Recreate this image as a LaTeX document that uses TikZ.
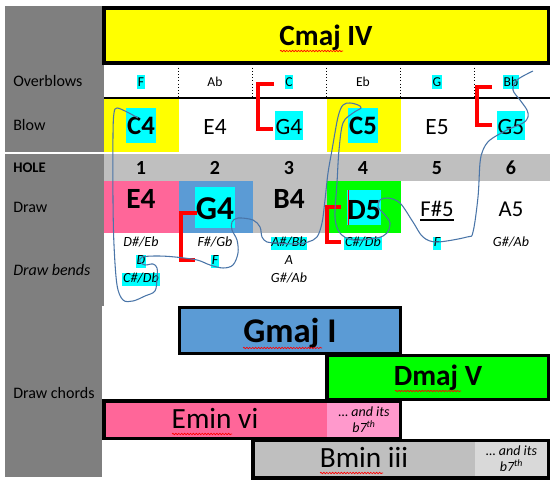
\documentclass[tikz,border=0pt]{standalone}
\usepackage{fontspec}
\setmainfont{Carlito}
\usetikzlibrary{decorations.pathmorphing}
\newcommand{\FontSz}[1]{\fontsize{#1}{#1}\selectfont}
\definecolor{chordpink}{HTML}{FF6699}
\definecolor{lightpink}{HTML}{FF99CC}
\definecolor{chordblue}{HTML}{5B9BD5}
\definecolor{chordgreen}{HTML}{00FF00}
\definecolor{chordyellow}{HTML}{FFFF00}
\definecolor{hlcyan}{HTML}{00FFFF}
\definecolor{lightgrey}{HTML}{BFBFBF}
\definecolor{palegrey}{HTML}{D9D9D9}
\definecolor{darkgrey}{HTML}{7F7F7F}
\definecolor{markred}{HTML}{FF0000}
\definecolor{scribble}{HTML}{4A75A8}

\begin{document}
\begin{tikzpicture}[x=0.75pt,y=-0.75pt,
    every node/.style={inner sep=0pt},
    hl/.style 2 args={fill=hlcyan,inner xsep=0.6pt,text height=#1,text depth=#2},
    rowlabel/.style={anchor=base west,font=\FontSz{12}},
    ob/.style={anchor=base,font=\FontSz{10.2}},
    obhl/.style={ob,hl={8.8pt}{2pt}},
    blow/.style={anchor=base,font=\FontSz{17.5}},
    blowhl/.style={blow,hl={18pt}{3.8pt}},
    blowbold/.style={anchor=base,font=\FontSz{20}\bfseries,hl={20pt}{6pt}},
    drawbold/.style={anchor=base,font=\FontSz{22}\bfseries},
    drawnote/.style={anchor=base,font=\FontSz{17}},
    bendnote/.style={anchor=base,font=\FontSz{10.5}\itshape},
    bendhl/.style={bendnote,hl={7.8pt}{2.6pt}},
    chordbox/.style={draw=black,line width=2.6pt},
    bracket/.style={markred,line width=3pt},
    squiggle/.style={markred,line width=0.5pt,decorate,decoration={snake,amplitude=0.55pt,segment length=2.2pt}}]

\useasboundingbox (0,0) rectangle (554,484);

% left column
\fill[darkgrey] (5,6) rectangle (104,152.3);
\fill[darkgrey] (5,153.7) rectangle (104,306);
\fill[darkgrey] (5,306) rectangle (102,477);
\node[rowlabel] (lob) at (13,87) {Overblows};
\node[rowlabel] (lbl) at (13,131) {Blow};
\node[rowlabel,font=\FontSz{11}\bfseries] (lho) at (13,173) {HOLE};
\node[rowlabel] (ldr) at (13,213) {Draw};
\node[rowlabel,font=\FontSz{12}\itshape] (lbe) at (13,276) {Draw bends};
\node[rowlabel] (lch) at (13,399) {Draw chords};

% cells
\fill[chordyellow] (104,99) rectangle (179,152.3);
\fill[chordyellow] (327,99) rectangle (401,152.3);
\fill[lightgrey] (104,153.7) rectangle (549.5,181);
\fill[chordpink] (104,181) rectangle (179,233.3);
\fill[chordblue] (179,181) rectangle (253.3,233.3);
\fill[lightgrey] (253.3,181) rectangle (327,233.3);
\fill[chordgreen] (327,181) rectangle (401,233.3);

% Cmaj
\draw[chordbox,fill=chordyellow] (103.8,8) rectangle (548.3,62.8);
\node[anchor=base,font=\FontSz{22}\bfseries] (cmaj) at (326,46) {Cmaj IV};

% overblows
\foreach \x in {178.3,252.3,326,400,474}
  \draw[dotted] (\x,64.5) -- (\x,96.8);
\draw[line width=2pt] (104,98) -- (549.5,98);
\foreach \n/\s [count=\i] in {F/obhl,Ab/ob,C/obhl,Eb/ob,G/obhl,Bb/obhl}
  \node[\s] (ob\i) at ({141+74*(\i-1)},86.5) {\n};

% blow
\foreach \n/\s [count=\i] in {C4/blowbold,E4/blow,G4/blowhl,C5/blowbold,E5/blow,G5/blowhl}
  \node[\s] (bl\i) at ({141+74*(\i-1)},135) {\n};

% holes
\foreach \i in {1,...,6}
  \node[anchor=base,font=\FontSz{15}\bfseries] (h\i) at ({141+74*(\i-1)},175) {\i};

% draw
\node[drawbold] (dr1) at (141,208.5) {E4};
\node[drawbold,font=\FontSz{25}\bfseries,hl={25pt}{6pt}] (dr2) at (215,220) {G4};
\node[drawbold] (dr3) at (289,209) {B4};
\node[drawbold,hl={22.5pt}{3.8pt}] (dr4) at (364,220) {D5};
\node[drawnote] (dr5) at (437,216.5) {F\#5};
\node[drawnote] (dr6) at (511,216.5) {A5};
\draw[line width=1.4pt] ([yshift=-2.6pt]dr5.base west) -- ([yshift=-2.6pt]dr5.base east);
\draw[markred,line width=0.6pt] (348,190) -- (348,225);

% bends
\node[bendnote] (b1a) at (141,247) {D\#/Eb};
\node[bendhl] (b1b) at (141,265) {D};
\node[bendhl] (b1c) at (141,283) {C\#/Db};
\node[bendnote] (b2a) at (215,247) {F\#/Gb};
\node[bendhl] (b2b) at (215,265) {F};
\node[bendhl] (b3a) at (289,247) {A\#/Bb};
\node[bendnote] (b3b) at (289,265) {A};
\node[bendnote] (b3c) at (289,283) {G\#/Ab};
\node[bendhl] (b4a) at (363,247) {C\#/Db};
\node[bendhl] (b5a) at (437,247) {F};
\node[bendnote] (b6a) at (511,247) {G\#/Ab};

% brackets
\draw[bracket] (274,84) -- (258,84) -- (258,129) -- (273,129);
\draw[bracket] (492,87) -- (477,87) -- (477,125) -- (492,125);
\draw[bracket] (197,213) -- (181,213) -- (181,260) -- (195,260);
\draw[bracket] (341,207) -- (327,207) -- (327,242) -- (341,242);

% draw chords
\draw[chordbox,fill=chordblue] (179.5,307.7) rectangle (400.3,353.7);
\node[anchor=base,font=\FontSz{26}\bfseries] (gmaj) at (290,343) {Gmaj I};
\draw[chordbox,fill=chordgreen] (327,355.3) rectangle (548.7,399.3);
\node[anchor=base,font=\FontSz{22}\bfseries] (dmaj) at (438,386) {Dmaj V};
\fill[chordpink] (103.8,401) rectangle (327,438.7);
\fill[lightpink] (327,401) rectangle (400.3,438.7);
\draw[chordbox] (103.8,401) rectangle (400.3,438.7);
\node[anchor=base,font=\FontSz{22}] (emin) at (215,429) {Emin vi};
\node[bendnote] (eminb) at (364,417) {… and its};
\node[bendnote] (eminc) at (364,433) {b7\textsuperscript{th}};
\fill[lightgrey] (252.8,440.3) rectangle (475,478);
\fill[palegrey] (475,440.3) rectangle (548.7,478);
\draw[chordbox] (252.8,440.3) rectangle (548.7,478);
\node[anchor=base,font=\FontSz{22}] (bmin) at (364,468) {Bmin iii};
\node[bendnote] (bminb) at (511.5,456) {… and its};
\node[bendnote] (bminc) at (511.5,472) {b7\textsuperscript{th}};

% spell check marks
\draw[squiggle] (280,51) -- (343,51);
\draw[squiggle] (243,348) -- (322,348);
\draw[squiggle] (395,391) -- (461,391);
\draw[squiggle] (172,434) -- (232,434);
\draw[squiggle] (320,473) -- (383,473);

% scribble
\draw[scribble,line width=0.8pt] plot[smooth,tension=0.55] coordinates {
  (138,118) (127,112) (117,108) (114,113) (113,135) (113,200) (114,245)
  (117,285) (123,300) (133,301) (145,296) (155,291) (157,278) (157,268)
  (153,264) (145,265) (140,262) (142,257) (158,256) (175,257) (197,260)
  (210,265) (223,268) (233,265) (238,253) (237,240) (232,230) (232,222)
  (238,218) (253,220) (260,227) (262,237) (267,242) (277,243) (295,244)
  (308,242) (317,237) (322,223) (325,200) (328,173) (332,150) (338,117)
  (343,105) (350,103) (358,105) (361,108) (353,113) (343,123) (339,150)
  (337,183) (335,217) (340,233) (353,240) (377,238) (387,233) (390,223)
  (385,215) (378,207) (380,200) (388,198) (400,203) (413,222) (423,237)
  (437,242) (467,237) (473,232) (478,197) (480,163) (483,150) (490,140)
  (507,130) (523,123) (528,117) (527,110) (520,100) (513,90) (517,80)
  (533,71)};

\end{tikzpicture}
\end{document}
